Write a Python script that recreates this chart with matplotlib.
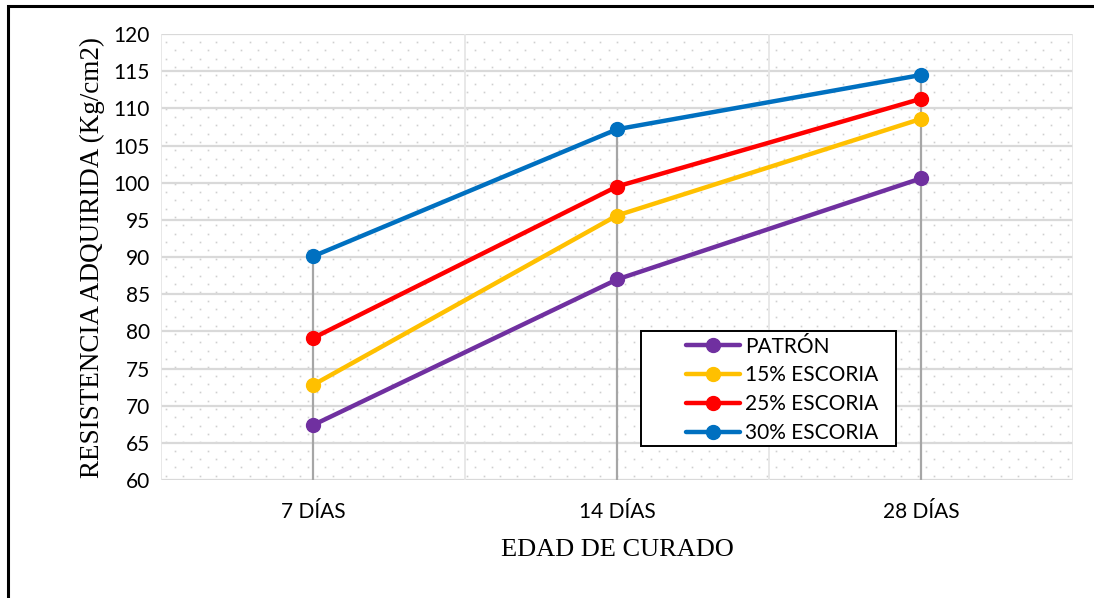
import numpy as np
import matplotlib
matplotlib.use("Agg")
import matplotlib.pyplot as plt
from matplotlib.patches import Rectangle

edades = ["7 DÍAS", "14 DÍAS", "28 DÍAS"]
patron = [67.4, 87.0, 100.6]
escoria_15 = [72.8, 95.6, 108.6]
escoria_25 = [79.1, 99.5, 111.3]
escoria_30 = [90.1, 107.2, 114.5]

series = [("PATRÓN", patron, "#7030a0"),
          ("15% ESCORIA", escoria_15, "#ffc000"),
          ("25% ESCORIA", escoria_25, "#ff0000"),
          ("30% ESCORIA", escoria_30, "#0070c0")]

fig = plt.figure(figsize=(10.94, 5.98), dpi=100)
ax = fig.add_axes([0.147, 0.197, 0.834, 0.746])

x = np.arange(len(edades))
ax.set_xlim(-0.5, 2.5)
ax.set_ylim(60, 120)

# dotted background pattern (staggered rows, like Excel's pattern fill)
dx, dy = 0.0183, 0.0187
gx, gy = np.meshgrid(np.arange(0.006, 1, dx), np.arange(0.010, 1, 2 * dy))
hx, hy = np.meshgrid(np.arange(0.006 + dx / 2, 1, dx), np.arange(0.010 + dy, 1, 2 * dy))
px = np.concatenate([gx.ravel(), hx.ravel()])
py = np.concatenate([gy.ravel(), hy.ravel()])
ax.plot(px, py, ls="none", marker="s", ms=1.2, color="#cfcfcf",
        mec="none", transform=ax.transAxes, zorder=0)

# gridlines
for v in range(60, 121, 5):
    ax.axhline(v, color="#d9d9d9", lw=1.6, zorder=1)
for b in [-0.5, 0.5, 1.5, 2.5]:
    ax.axvline(b, color="#e6e6e6", lw=1.3, zorder=1)

# drop lines
tops = np.max([s[1] for s in series], axis=0)
ax.vlines(x, 60, tops, color="#a6a6a6", lw=1.6, zorder=2)

for name, vals, col in series:
    ax.plot(x, vals, color=col, lw=3.2, marker="o", ms=10, label=name, zorder=3,
            solid_capstyle="round")

for s in ax.spines.values():
    s.set_visible(False)
ax.tick_params(length=0, labelsize=15, pad=8)
ax.set_xticks(x)
ax.set_xticklabels(edades, fontfamily="Lato")
ax.set_yticks(range(60, 121, 5))
for t in ax.get_yticklabels():
    t.set_fontfamily("Lato")
ax.tick_params(axis="x", pad=16)

ax.set_ylabel("RESISTENCIA ADQUIRIDA (Kg/cm2)", fontfamily="Liberation Serif",
              fontsize=19.5, labelpad=6)
ax.set_xlabel("EDAD DE CURADO", fontfamily="Liberation Serif", fontsize=19,
              labelpad=12)

# legend box (Excel style: wide left margin)
box = Rectangle((0.526, 0.076), 0.280, 0.258, transform=ax.transAxes,
                facecolor="white", edgecolor="black", lw=1.4, zorder=4)
ax.add_patch(box)
leg = ax.legend(loc="upper left", bbox_to_anchor=(0.5757, 0.322), frameon=False,
                prop={"family": "Lato", "size": 15}, handlelength=2.6,
                borderpad=0, labelspacing=0.42, handletextpad=0.25,
                borderaxespad=0)
leg.set_zorder(5)

fig.patches.append(Rectangle((0.007, -0.1), 1.2, 1.09, transform=fig.transFigure,
                             fill=False, edgecolor="black", lw=2.2))

fig.savefig("out.png", dpi=100)
